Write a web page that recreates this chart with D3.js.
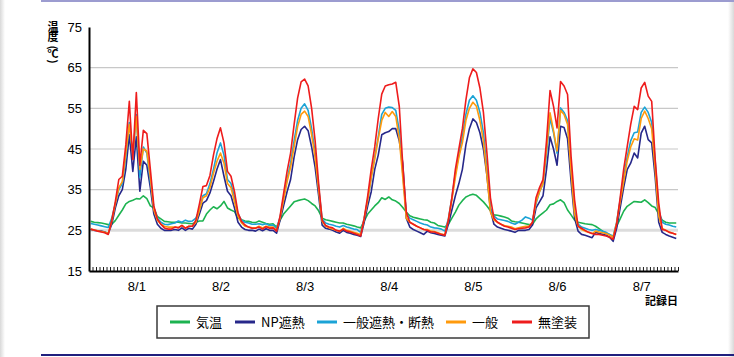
<!DOCTYPE html>
<html><head><meta charset="utf-8">
<script src="https://cdn.jsdelivr.net/npm/d3@7"></script>
<style>
html,body{margin:0;padding:0;background:#fff;}
svg{display:block;font-family:"Liberation Sans",Arial,"Noto Sans CJK JP",sans-serif;}
.jp{font-family:"Noto Sans CJK JP","Liberation Sans",sans-serif;}
</style></head>
<body>
<svg id="chart" width="734" height="357"></svg>
<script>
const dates = ["8/1","8/2","8/3","8/4","8/5","8/6","8/7"];
const yTicks = [15,25,35,45,55,65,75];
const seriesNames = ["気温","NP遮熱","一般遮熱・断熱","一般","無塗装"];
const seriesColors = ["#1db350","#27288a","#1ba3d6","#ff9a0d","#ee1c1c"];

// hourly values, 24 per day, 8/1 .. 8/7
const kion = [
27.2,27.0,26.9,26.8,26.6,26.4,26.5,27.4,28.7,30.0,31.5,32.1,32.4,32.8,32.7,33.5,32.8,31.0,30.5,28.4,27.8,27.2,27.1,27.0,
27.0,27.0,26.8,26.8,26.7,26.6,27.0,27.3,27.3,29.0,30.0,30.8,30.3,31.0,32.1,30.5,30.0,29.6,28.0,27.6,27.3,27.2,27.0,26.9,
27.3,27.0,26.7,26.5,26.6,25.8,27.5,29.0,30.0,31.0,32.0,32.3,32.5,32.7,32.3,31.6,31.0,29.8,28.0,27.6,27.4,27.2,27.0,26.8,
26.8,26.5,26.3,26.1,25.8,25.6,27.3,29.0,30.0,31.0,31.8,33.0,32.6,33.2,32.5,32.2,31.6,30.6,29.5,28.6,28.2,28.0,27.8,27.6,
27.5,27.0,26.8,26.2,26.0,25.8,26.5,28.0,29.5,31.2,32.3,33.2,33.6,33.9,33.6,32.8,32.0,31.0,29.8,28.8,28.7,28.5,28.3,28.0,
27.3,27.1,27.0,26.8,26.6,26.4,26.5,27.8,28.6,29.3,30.0,31.3,31.5,32.1,32.5,31.8,30.0,28.8,27.5,27.0,26.8,26.6,26.5,26.4,
26.0,25.4,24.8,24.3,23.9,23.5,26.0,27.8,29.7,30.9,31.5,32.1,32.0,31.9,32.5,31.8,31.0,30.6,29.0,27.5,27.0,26.8,26.8,26.8];
const npShanetsu = [
25.2,25.0,24.9,24.8,24.6,24.2,26.5,30.5,33.5,35.0,40.0,48.5,39.5,48.0,34.6,42.0,41.0,35.5,29.0,26.5,25.5,25.0,25.0,25.0,
25.2,25.0,25.6,25.0,25.5,25.3,26.5,29.0,31.7,32.3,34.2,37.0,40.0,42.4,38.3,34.6,33.5,30.5,27.0,25.8,25.2,25.0,25.0,24.8,
25.3,24.9,25.4,25.0,25.0,24.3,27.5,31.0,34.5,37.5,43.0,47.3,49.8,50.6,49.5,45.5,40.5,33.5,26.3,25.5,25.3,25.0,24.6,24.3,
25.0,24.5,24.3,24.0,23.8,23.5,27.0,31.0,34.5,40.0,43.5,48.5,49.0,49.3,50.0,50.0,47.0,41.5,28.0,25.8,25.2,24.8,24.4,24.0,
24.8,24.4,24.2,24.0,23.8,23.6,26.5,30.0,33.5,36.5,40.0,46.0,50.0,52.4,51.5,49.0,45.0,38.5,30.0,26.5,25.8,25.5,25.2,25.0,
24.8,24.5,25.0,25.0,25.0,25.2,26.3,30.5,32.0,33.5,40.0,48.0,45.0,41.0,50.6,50.3,47.5,37.0,28.0,24.8,24.0,23.8,23.5,23.2,
24.5,24.2,24.0,23.8,23.3,22.3,25.5,30.5,35.5,39.9,41.5,44.0,42.8,48.9,50.6,47.3,46.5,38.0,27.0,24.5,24.0,23.6,23.3,23.0];
const ippanShanetsuDannetsu = [
26.7,26.5,26.3,26.1,25.9,25.7,28.0,31.5,35.0,36.5,43.0,51.5,43.0,53.5,38.0,45.5,44.0,37.0,30.5,28.0,27.0,26.5,26.4,26.6,
26.8,27.3,27.0,27.5,27.2,27.3,28.0,30.0,33.5,34.0,36.5,40.0,44.0,46.5,43.5,37.5,36.5,33.0,29.0,27.5,27.0,26.8,26.5,26.5,
26.6,26.4,26.6,26.2,26.3,25.5,28.2,33.0,37.5,41.5,47.0,52.0,55.0,56.1,54.5,50.0,44.0,35.5,27.8,26.8,26.5,26.3,26.0,25.8,
26.2,25.8,25.6,25.3,25.2,24.5,28.0,32.5,38.0,43.0,48.0,53.5,55.0,55.3,55.2,54.5,49.5,39.0,29.0,28.0,27.6,27.2,26.8,26.5,
26.3,25.8,25.6,25.5,25.3,24.8,27.8,33.0,39.0,43.5,48.0,53.5,57.0,58.1,57.0,54.0,49.0,40.0,30.5,28.5,27.8,27.6,27.4,27.2,
26.8,26.5,27.0,27.5,28.3,28.0,27.5,31.5,34.5,36.5,44.0,52.6,49.0,44.0,55.1,54.0,52.0,40.0,29.5,26.5,25.8,25.5,25.2,25.0,
25.2,25.0,24.8,24.5,24.0,23.5,27.0,32.5,38.0,43.0,47.0,49.0,49.2,54.0,55.3,54.0,51.5,42.0,30.0,27.0,26.5,26.3,26.0,25.8];
const ippan = [
25.3,25.1,24.9,24.7,24.5,24.2,27.2,31.5,35.5,37.0,44.0,51.0,44.0,53.0,40.0,45.0,44.5,38.0,30.0,27.5,26.5,26.0,25.8,25.8,
25.8,25.7,26.2,25.6,26.0,26.0,27.0,30.0,33.0,33.5,35.5,39.0,42.0,44.0,41.5,36.5,35.5,32.0,28.5,26.8,26.0,25.8,25.6,25.6,
26.0,25.6,26.0,25.8,25.8,25.0,28.0,32.5,37.0,40.5,45.5,50.5,53.5,54.3,53.0,48.5,43.0,35.0,27.2,26.0,25.6,25.3,25.0,24.7,
25.5,25.0,24.8,24.5,24.3,24.0,27.8,32.5,38.0,42.5,47.5,52.0,54.0,53.0,54.2,53.0,47.5,38.0,28.0,27.0,26.5,26.0,25.6,25.2,
25.2,24.8,24.7,24.4,24.1,23.9,27.5,32.5,38.0,43.0,46.5,52.0,55.0,56.5,55.5,52.0,47.0,38.5,29.5,27.5,27.0,26.5,26.2,26.0,
25.8,25.4,25.6,25.8,26.0,26.0,27.0,32.0,34.5,36.5,45.0,53.9,49.5,44.5,54.5,53.5,51.0,39.5,29.0,26.0,25.2,24.8,24.5,24.2,
24.8,24.6,24.4,24.2,23.8,23.3,26.8,32.0,37.0,42.0,45.5,47.5,47.2,52.5,54.3,52.5,50.0,40.0,28.5,25.5,25.0,24.6,24.3,24.0];
const mutoso = [
25.3,25.1,24.8,24.6,24.4,24.0,27.5,32.0,37.5,38.3,46.0,56.7,42.4,58.9,41.0,49.6,48.8,40.0,31.0,27.8,26.5,25.6,25.3,25.3,
25.8,25.6,26.2,25.5,26.0,26.0,27.5,31.5,35.8,36.0,38.5,43.5,47.5,50.2,46.5,39.5,38.3,34.5,29.3,27.2,26.3,25.8,25.5,25.5,
25.8,25.3,25.9,25.5,25.6,24.8,28.5,34.0,39.5,44.0,51.0,57.5,61.5,62.2,60.5,55.0,47.0,36.5,27.5,26.2,25.8,25.6,25.0,24.8,
25.3,24.8,24.6,24.3,24.0,23.6,28.0,33.5,40.0,45.5,52.5,58.5,60.5,60.8,61.0,61.4,55.5,41.0,29.5,27.0,26.5,26.0,25.6,25.2,
25.0,24.6,24.6,24.3,24.0,23.8,27.5,33.0,40.0,45.0,50.0,57.0,62.5,64.7,63.8,60.0,54.0,44.0,33.0,28.0,27.0,26.5,26.0,25.8,
25.5,25.2,25.4,25.5,25.6,25.8,27.0,33.0,35.5,37.5,47.0,59.4,55.5,50.2,61.6,60.5,58.4,43.2,32.5,26.0,25.5,25.0,24.5,24.2,
24.0,24.0,23.8,23.6,23.3,22.8,26.5,33.0,40.0,45.5,51.0,55.5,54.7,60.0,61.4,58.0,56.7,42.4,31.7,25.2,25.0,24.5,24.3,24.0];

const seriesValues = [kion, npShanetsu, ippanShanetsuDannetsu, ippan, mutoso];

const svg = d3.select("#chart");
const W = 734, H = 357;
const L = 89, R = 678, T = 27, B = 271;

// page frame decorations
const defs = svg.append("defs");
const gl = defs.append("linearGradient").attr("id","gl").attr("x1","0").attr("x2","1");
gl.append("stop").attr("offset","0").attr("stop-color","#d9d9d9");
gl.append("stop").attr("offset","1").attr("stop-color","#fff");
const gr = defs.append("linearGradient").attr("id","gr").attr("x1","0").attr("x2","1");
gr.append("stop").attr("offset","0").attr("stop-color","#fff");
gr.append("stop").attr("offset","1").attr("stop-color","#d9d9d9");
svg.append("rect").attr("x",0).attr("y",0).attr("width",5).attr("height",H).attr("fill","url(#gl)");
svg.append("rect").attr("x",W-6).attr("y",0).attr("width",6).attr("height",H).attr("fill","url(#gr)");
svg.append("rect").attr("x",41).attr("y",0).attr("width",W-41).attr("height",2).attr("fill","#9c9cd0");
svg.append("rect").attr("x",41).attr("y",354).attr("width",W-41).attr("height",2).attr("fill","#20207e");

const nHours = dates.length * 24;
const x = d3.scaleLinear().domain([0, nHours]).range([L, R]);
const y = d3.scaleLinear().domain([15, 75]).range([B, T]);

// gridlines
svg.append("g").selectAll("line").data(yTicks.filter(v => v > 15 && v < 75)).join("line")
  .attr("x1", L).attr("x2", R)
  .attr("y1", d => y(d)).attr("y2", d => y(d))
  .attr("stroke", d => d === 25 ? "#dcdcdc" : "#c8c8c8")
  .attr("stroke-width", d => d === 25 ? 3 : 1.2);

// lines
const line = d3.line().x((d, i) => x(i + 0.5)).y(d => y(d));
svg.append("g").selectAll("path").data(seriesValues).join("path")
  .attr("d", d => line(d))
  .attr("fill", "none")
  .attr("stroke", (d, i) => seriesColors[i])
  .attr("stroke-width", 1.6)
  .attr("stroke-linejoin", "round");

// y axis
const yAxis = svg.append("g").attr("transform", `translate(${L},0)`)
  .call(d3.axisLeft(y).tickValues(yTicks).tickSize(0).tickSizeOuter(0).tickPadding(7));
yAxis.select(".domain").attr("stroke", "#000").attr("stroke-width", 2);
yAxis.selectAll("text").attr("font-size", 13).attr("fill", "#000")
  .attr("font-family", "'Liberation Sans', Arial, sans-serif");

// x axis with hourly inward ticks
const xAxis = svg.append("g").attr("transform", `translate(0,${B})`)
  .call(d3.axisBottom(x).tickValues(d3.range(0, nHours + 1)).tickSize(-4).tickSizeOuter(0).tickFormat(""));
xAxis.select(".domain").attr("stroke", "#000").attr("stroke-width", 2);
xAxis.selectAll(".tick line").attr("stroke", "#000").attr("stroke-width", 0.9);

// date labels
const xLab = svg.append("g").attr("transform", `translate(0,${B})`)
  .call(d3.axisBottom(x).tickValues(dates.map((d, i) => i * 24 + 13.5)).tickSize(0)
    .tickFormat((d, i) => dates[i]).tickPadding(11));
xLab.select(".domain").remove();
xLab.selectAll("text").attr("font-size", 13).attr("fill", "#000")
  .attr("font-family", "'Liberation Sans', Arial, sans-serif");

// vertical y title: 温 度 ( ℃ ) with rotated parentheses
const yt = svg.append("g").attr("class", "jp").attr("font-size", 11).attr("font-weight", "bold").attr("fill", "#000");
const titleChars = [["温", 27, 0], ["度", 37.5, 0], ["(", 47.5, 90], ["℃", 54.5, 0], [")", 61.5, 90]];
titleChars.forEach(([c, cy, rot]) => {
  yt.append("text").attr("text-anchor", "middle").attr("dy", "0.36em")
    .attr("transform", `translate(53,${cy}) rotate(${rot})`).text(c);
});
svg.append("text").attr("class", "jp").attr("x", R).attr("y", 305)
  .attr("text-anchor", "end").attr("font-size", 11).attr("font-weight", "bold").attr("fill", "#000")
  .text("記録日");

// legend
const lg = svg.append("g");
lg.append("rect").attr("x", 157).attr("y", 306).attr("width", 432).attr("height", 32)
  .attr("fill", "#fff").attr("stroke", "#3a3a3a").attr("stroke-width", 1.5);
const legX = [170, 235, 317, 446, 512];
const item = lg.selectAll("g.it").data(seriesNames).join("g").attr("class", "it")
  .attr("transform", (d, i) => `translate(${legX[i]},322)`);
item.append("line").attr("x1", 0).attr("x2", 20).attr("y1", 0).attr("y2", 0)
  .attr("stroke", (d, i) => seriesColors[i]).attr("stroke-width", 3);
item.append("text").attr("class", "jp").attr("x", 26).attr("y", 0).attr("dy", "0.36em")
  .attr("font-size", 13).attr("fill", "#000").text(d => d);
</script>
</body></html>
